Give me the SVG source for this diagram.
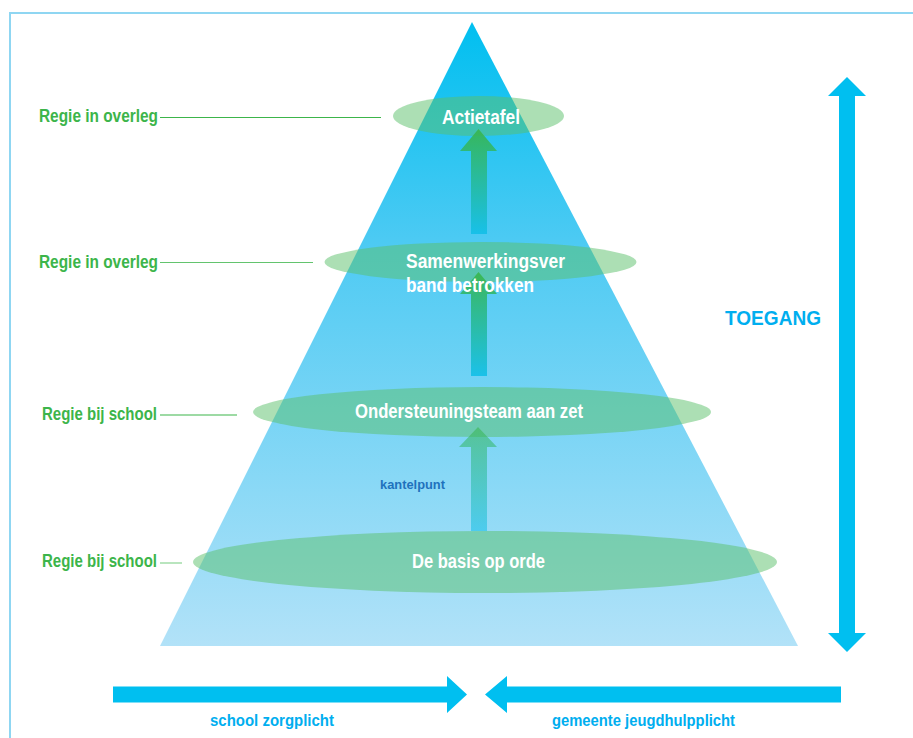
<svg xmlns="http://www.w3.org/2000/svg" width="913" height="738" viewBox="0 0 913 738">
<style>
  .lbl { font-family: "Liberation Sans", Arial, sans-serif; font-weight: bold; }
  .node-text { fill: #ffffff; font-size: 20px; }
  .regie { fill: #3cb54a; font-size: 19px; text-anchor: end; }
  .lead { stroke: #3cb54a; stroke-width: 1.2; }
  .ell { fill: #5abf69; fill-opacity: 0.5; }
  .cyan { fill: #00bff0; }
  .cyantext { fill: #00aeef; }
</style>
<defs>
  <linearGradient id="triGrad" x1="0" y1="0" x2="0" y2="1">
    <stop offset="0" stop-color="#00bff0"/>
    <stop offset="0.35" stop-color="#4ccaf3"/>
    <stop offset="1" stop-color="#b2e2f8"/>
  </linearGradient>
  <linearGradient id="arrGrad" x1="0" y1="0" x2="0" y2="1">
    <stop offset="0" stop-color="#39b54a"/>
    <stop offset="1" stop-color="#12bfe8"/>
  </linearGradient>
</defs>

<rect width="913" height="738" fill="#ffffff"/>
<!-- frame -->
<path d="M10,738 L10,13 L913,13" fill="none" stroke="#8fd6f2" stroke-width="2"/>

<!-- pyramid -->
<polygon id="pyramid" points="472,22 798,646 160,646" fill="url(#triGrad)"/>

<!-- ellipses (nodes) -->
<g id="node-actietafel">
  <ellipse class="ell" cx="478.5" cy="116" rx="85.5" ry="20"/>
</g>
<g id="node-samenwerkingsverband">
  <ellipse class="ell" cx="480.5" cy="262" rx="156" ry="20"/>
</g>
<g id="node-ondersteuningsteam">
  <ellipse class="ell" cx="482" cy="412" rx="229" ry="25"/>
</g>
<g id="node-basis">
  <ellipse class="ell" cx="485" cy="562" rx="292" ry="31"/>
</g>

<!-- connectors -->
<g id="connectors">
  <path d="M471,234 L471,151 L460,151 L478.5,129 L497,151 L487,151 L487,234 Z" fill="url(#arrGrad)" opacity="0.9"/>
  <path d="M471,376 L471,294 L460,294 L478.5,272 L497,294 L487,294 L487,376 Z" fill="url(#arrGrad)" opacity="0.9"/>
  <path d="M471,531 L471,447 L459,447 L478,427 L497,447 L487,447 L487,531 Z" fill="url(#arrGrad)" opacity="0.55"/>
  <path d="M113,686.5 L447,686.5 L447,676 L467,694.5 L447,713 L447,702.5 L113,702.5 Z" class="cyan"/>
  <path d="M841,686.5 L507,686.5 L507,676 L485,694.5 L507,713 L507,702.5 L841,702.5 Z" class="cyan"/>
  <path d="M847,77 L866,96 L855,96 L855,633 L866,633 L847,652 L828,633 L839,633 L839,96 L828,96 Z" class="cyan"/>
  <line class="lead" x1="160" y1="117.5" x2="381" y2="117.5"/>
  <line class="lead" x1="160" y1="262.5" x2="313" y2="262.5" stroke-opacity="0.8"/>
  <line class="lead" x1="160" y1="415" x2="237" y2="415"/>
  <line class="lead" x1="160" y1="563" x2="182" y2="563" stroke-opacity="0.6"/>
</g>

<!-- node texts -->
<g id="texts">
  <text class="lbl node-text" x="442" y="123.5" textLength="78" lengthAdjust="spacingAndGlyphs">Actietafel</text>
  <text class="lbl node-text" x="406" y="268" textLength="159" lengthAdjust="spacingAndGlyphs">Samenwerkingsver</text>
  <text class="lbl node-text" x="406" y="292" textLength="128" lengthAdjust="spacingAndGlyphs">band betrokken</text>
  <text class="lbl node-text" x="355" y="417.5" textLength="228" lengthAdjust="spacingAndGlyphs">Ondersteuningsteam aan zet</text>
  <text class="lbl node-text" x="412" y="568" textLength="133" lengthAdjust="spacingAndGlyphs">De basis op orde</text>
  <text class="lbl" x="380" y="489" font-size="12.5" fill="#1f72bd" textLength="65" lengthAdjust="spacingAndGlyphs">kantelpunt</text>

  <text class="lbl regie" x="158" y="122" textLength="119" lengthAdjust="spacingAndGlyphs">Regie in overleg</text>
  <text class="lbl regie" x="158" y="268" textLength="119" lengthAdjust="spacingAndGlyphs">Regie in overleg</text>
  <text class="lbl regie" x="157" y="420" textLength="115" lengthAdjust="spacingAndGlyphs">Regie bij school</text>
  <text class="lbl regie" x="157" y="567" textLength="115" lengthAdjust="spacingAndGlyphs">Regie bij school</text>

  <text class="lbl cyantext" x="725" y="325" font-size="21" textLength="96" lengthAdjust="spacingAndGlyphs">TOEGANG</text>
  <text class="lbl cyantext" x="210" y="726" font-size="17" textLength="124" lengthAdjust="spacingAndGlyphs">school zorgplicht</text>
  <text class="lbl cyantext" x="552" y="726" font-size="17" textLength="183" lengthAdjust="spacingAndGlyphs">gemeente jeugdhulpplicht</text>
</g>
</svg>
